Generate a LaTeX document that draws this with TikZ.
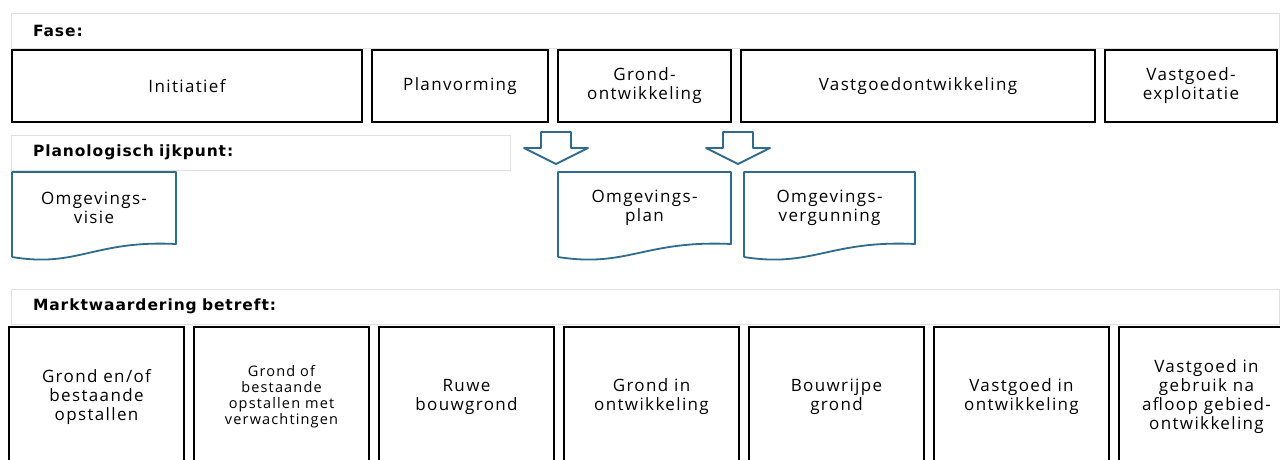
\documentclass[tikz,border=0pt]{standalone}
\usepackage{fontspec}
\setmainfont{Open Sans}[LetterSpace=8]
\newfontfamily\headfont{DejaVu Sans}[LetterSpace=6]
\usepackage{xcolor}
\usepackage{tikz}
\usetikzlibrary{positioning}
\definecolor{docblue}{HTML}{2E6B8C}
\tikzset{
  headbox/.style={draw=black!12, line width=0.8pt, anchor=north west,
    minimum height=35pt, inner xsep=22pt, inner ysep=0pt, outer sep=0pt,
    align=left, font=\headfont\bfseries\fontsize{15.5}{17}\selectfont},
  phasebox/.style={draw=black, line width=1.8pt, anchor=north west,
    minimum height=72pt, inner sep=2pt, outer sep=0pt, align=center,
    font=\fontsize{17}{19}\selectfont},
  valbox/.style={draw=black, line width=1.8pt, anchor=north west,
    minimum width=175pt, minimum height=140pt, inner sep=2pt, outer sep=0pt,
    align=center, font=\fontsize{17}{19}\selectfont},
  docbox/.style={anchor=north west, minimum height=72pt, inner sep=2pt,
    outer sep=0pt, align=center, font=\fontsize{17}{19}\selectfont},
  docline/.style={draw=docblue, line width=1.8pt, line join=round},
  blockarrow/.style={docline, fill=white}
}

\begin{document}
\begin{tikzpicture}[x=1pt, y=-1pt, node distance=10pt]
  \useasboundingbox (0,0) rectangle (1280,460);
  \clip (0,0) rectangle (1280,460);

  \node[headbox, text width=1224pt] (fase) at (11,13) {Fase:};
  \node[phasebox, minimum width=350pt] (init) at (12,50) {Initiatief};
  \node[phasebox, minimum width=176pt, right=of init] (planv) {Planvorming};
  \node[phasebox, minimum width=173pt, right=of planv] (grond)
    {Grond-\\ontwikkeling};
  \node[phasebox, minimum width=354pt, right=of grond] (vgo)
    {Vastgoedontwikkeling};
  \node[phasebox, minimum width=172pt, right=of vgo] (expl)
    {Vastgoed-\\exploitatie};

  \node[headbox, text width=455pt] (ijk) at (11,135) {Planologisch ijkpunt:};
  \node[docbox, minimum width=164pt] (visie) at (12,172) {Omgevings-\\visie};
  \node[docbox, minimum width=173pt, below=50pt of grond, anchor=north]
    (plan) {Omgevings-\\plan};
  \node[docbox, minimum width=171pt, right=13pt of plan] (verg)
    {Omgevings-\\vergunning};

  \foreach \d/\w in {visie/164, plan/173, verg/171}
    \draw[docline] ([yshift=-13pt]\d.south west) -- (\d.north west)
      -- (\d.north east) -- (\d.south east)
      .. controls +(-0.5*\w,-4) and +(0.4*\w,11) .. ([yshift=-13pt]\d.south west);

  \coordinate (tipa) at (556,164);
  \coordinate (tipb) at (738,164);
  \foreach \t in {tipa, tipb}
    \draw[blockarrow] (\t) -- +(32,-16) -- +(15,-16) -- +(15,-32)
      -- +(-15,-32) -- +(-15,-16) -- +(-32,-16) -- cycle;

  \node[headbox, text width=1224pt] (markt) at (11,289)
    {Marktwaardering betreft:};
  \node[valbox] (v1) at (9,327) {Grond en/of\\bestaande\\opstallen};
  \node[valbox, right=of v1, font=\fontsize{14.5}{16}\selectfont] (v2)
    {Grond of\\bestaande\\opstallen met\\verwachtingen};
  \node[valbox, right=of v2] (v3) {Ruwe\\bouwgrond};
  \node[valbox, right=of v3] (v4) {Grond in\\ontwikkeling};
  \node[valbox, right=of v4] (v5) {Bouwrijpe\\grond};
  \node[valbox, right=of v5] (v6) {Vastgoed in\\ontwikkeling};
  \node[valbox, right=of v6] (v7)
    {Vastgoed in\\gebruik na\\afloop gebied-\\ontwikkeling};
\end{tikzpicture}
\end{document}
